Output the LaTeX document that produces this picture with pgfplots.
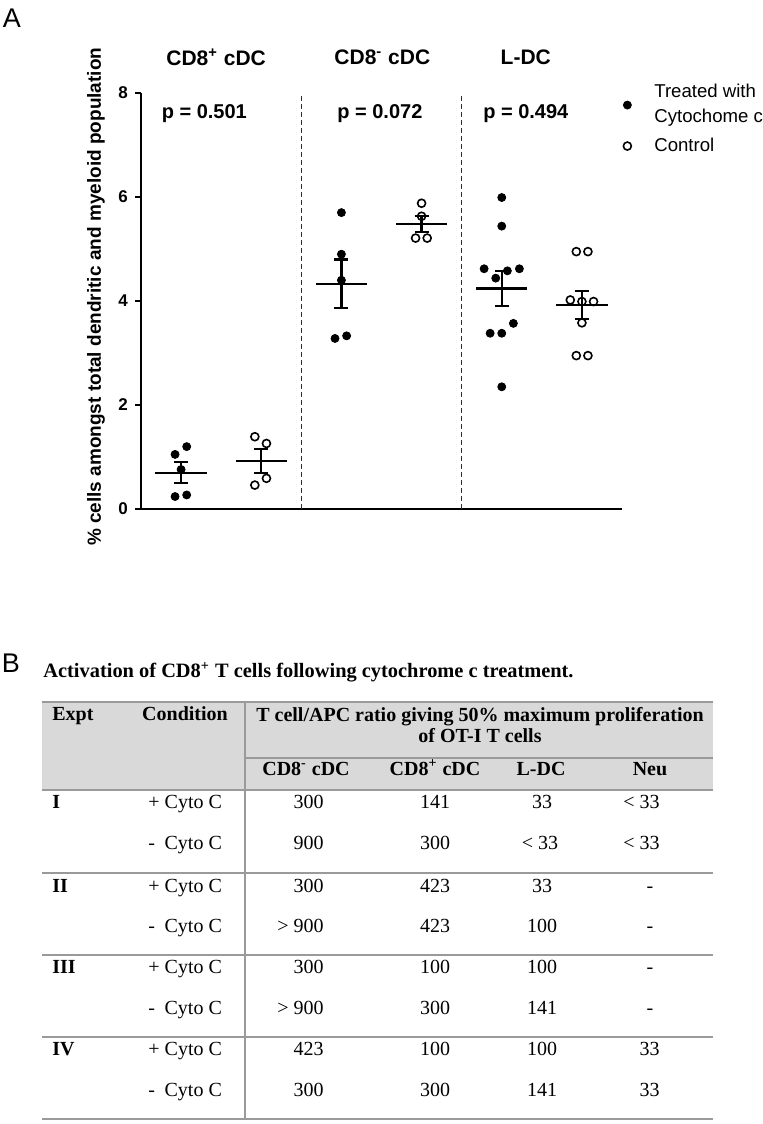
\documentclass[border=0pt]{standalone}
\usepackage{pgfplots}
\pgfplotsset{compat=1.18}
\usepackage{fontspec}
\setmainfont{Liberation Sans}
\newfontfamily\tnr{Liberation Serif}
\definecolor{hdrgray}{HTML}{D9D9D9}
\definecolor{rulegray}{HTML}{9A9A9A}
\definecolor{dashgray}{HTML}{333333}

\begin{document}
\begin{tikzpicture}
\useasboundingbox (0,0) rectangle (381pt,-562pt);

\begin{axis}[
  at={(70.5pt,-254.5pt)}, anchor=south west,
  scale only axis, width=240.5pt, height=208pt,
  xmin=0.5, xmax=6.5, ymin=0, ymax=8,
  axis lines=left, axis line style={-, line width=1.3pt, black},
  xtick=\empty, ytick={0,2,4,6,8},
  tick align=outside, major tick length=3pt,
  major tick style={line width=1.2pt, black},
  /pgf/number format/assume math mode=true,
  yticklabel style={font=\bfseries\fontsize{8.5}{10}\selectfont},
  ylabel={\% cells amongst total dendritic and myeloid population},
  ylabel style={font=\bfseries\fontsize{9.5}{11}\selectfont, at={(axis description cs:-0.0936,0.51)}, anchor=center},
  clip=false,
  legend cell align=left,
  legend image code/.code={\draw[#1] plot coordinates {(0pt,0pt)};},
  legend style={at={(axis description cs:1.002,1.029)}, anchor=north west, draw=none, fill=none, inner sep=0pt,
    font=\fontsize{9.3}{12.5}\selectfont, cells={anchor=west, align=left}, nodes={inner sep=1.5pt},
    row sep=3pt, /tikz/every odd column/.append style={column sep=10pt}},
]
% group separators
\addplot[forget plot, dashgray, line width=0.7pt, dash pattern=on 2.5pt off 1.5pt] coordinates {(2.5,0) (2.5,8)};
\addplot[forget plot, dashgray, line width=0.7pt, dash pattern=on 2.5pt off 1.5pt] coordinates {(4.5,0) (4.5,8)};

% treated with cytochrome c
\addplot[only marks, mark=*, mark size=2pt, black] coordinates {
 (0.925,1.05) (1.07,1.20) (1.0,0.76) (0.925,0.24) (1.07,0.27)
 (3.0,5.70) (3.0,4.90) (3.0,4.40) (2.92,3.28) (3.065,3.33)
 (5.0,5.99) (5.0,5.44) (4.78,4.62) (5.07,4.58) (5.22,4.62) (4.925,4.44) (5.145,3.57) (4.855,3.38) (5.0,3.38) (5.0,2.35)
};
\addlegendentry{Treated with\\Cytochome c}

% control
\addplot[only marks, mark=o, mark size=2pt, mark options={line width=0.8pt, fill=white}, black] coordinates {
 (1.92,1.39) (2.065,1.26) (2.065,0.59) (1.92,0.46)
 (4.0,5.88) (4.0,5.63) (3.925,5.21) (4.07,5.21)
 (5.93,4.95) (6.075,4.95) (5.855,4.02) (6.0,3.99) (6.145,3.99) (6.0,3.58) (5.93,2.95) (6.075,2.95)
};
\addlegendentry{Control}

% mean +- SEM
\addplot[forget plot, only marks, mark=-, mark size=12.8pt, mark options={line width=1.1pt}, black,
  error bars/.cd, y dir=both, y explicit,
  error bar style={line width=1.1pt, black},
  error mark=-,
  error mark options={rotate=90, line width=1.1pt, mark size=3.5pt, black}] coordinates {
 (1,0.70) +- (0,0.20)
 (2,0.92) +- (0,0.23)
 (3,4.33) +- (0,0.47)
 (4,5.48) +- (0,0.16)
 (5,4.24) +- (0,0.34)
 (6,3.92) +- (0,0.27)
};

% group titles and p values
\node[font=\bfseries\fontsize{10.5}{12}\selectfont] at (axis cs:1.437,8.68) {CD8\textsuperscript{+} cDC};
\node[font=\bfseries\fontsize{10.5}{12}\selectfont] at (axis cs:3.51,8.68) {CD8\textsuperscript{-} cDC};
\node[font=\bfseries\fontsize{10.5}{12}\selectfont] at (axis cs:5.30,8.68) {L-DC};
\node[font=\bfseries\fontsize{10}{12}\selectfont] at (axis cs:1.29,7.61) {p = 0.501};
\node[font=\bfseries\fontsize{10}{12}\selectfont] at (axis cs:3.48,7.61) {p = 0.072};
\node[font=\bfseries\fontsize{10}{12}\selectfont] at (axis cs:5.30,7.61) {p = 0.494};
\end{axis}

\begin{scope}[x=0.5pt, y=-0.5pt]
% panel labels
\node[font=\fontsize{13.5}{15}\selectfont] at (12,18) {A};
\node[font=\fontsize{13.5}{15}\selectfont] at (11,663) {B};

% table title
\node[anchor=west, inner sep=0pt, font=\tnr\bfseries\fontsize{10.2}{12}\selectfont] at (43,672)
  {Activation of CD8\textsuperscript{+} T cells following cytochrome c treatment.};

% header background and rules
\fill[hdrgray] (42,702) rectangle (713,790);
\draw[rulegray, line width=1.2pt] (42,702) -- (713,702);
\draw[rulegray, line width=1pt] (245,758) -- (713,758);
\draw[rulegray, line width=1pt] (42,790) -- (713,790);
\draw[rulegray, line width=0.6pt] (245,702) -- (245,1119);
\draw[rulegray, line width=1pt] (42,873) -- (713,873);
\draw[rulegray, line width=1pt] (42,955) -- (713,955);
\draw[rulegray, line width=1pt] (42,1037) -- (713,1037);
\draw[rulegray, line width=1.2pt] (42,1119) -- (713,1119);

\begin{scope}[every node/.style={font=\tnr\bfseries\fontsize{10}{12}\selectfont, inner sep=0pt, text height=7pt, text depth=2pt}]
\node[anchor=west] at (52,715) {Expt};
\node at (185,715) {Condition};
\node at (480,716) {T cell/APC ratio giving 50\% maximum proliferation};
\node at (480,737) {of OT-I T cells};
\node at (306,770) {CD8\textsuperscript{-} cDC};
\node at (435,770) {CD8\textsuperscript{+} cDC};
\node at (541,770) {L-DC};
\node at (650,770) {Neu};
\node[anchor=west] at (52,803) {I};
\node[anchor=west] at (52,887) {II};
\node[anchor=west] at (52,968) {III};
\node[anchor=west] at (52,1050) {IV};
\end{scope}

\begin{scope}[every node/.style={font=\tnr\fontsize{10}{12}\selectfont, inner sep=0pt, text height=7pt, text depth=2pt}]
% conditions
\node[anchor=west] at (148,803) {+ Cyto C};
\node[anchor=west] at (148,844) {-\hspace{0.23em} Cyto C};
\node[anchor=west] at (148,887) {+ Cyto C};
\node[anchor=west] at (148,927) {-\hspace{0.23em} Cyto C};
\node[anchor=west] at (148,968) {+ Cyto C};
\node[anchor=west] at (148,1009) {-\hspace{0.23em} Cyto C};
\node[anchor=west] at (148,1050) {+ Cyto C};
\node[anchor=west] at (148,1091) {-\hspace{0.23em} Cyto C};
% CD8- cDC
\node[anchor=east] at (324,803) {300};
\node[anchor=east] at (324,844) {900};
\node[anchor=east] at (324,887) {300};
\node[anchor=east] at (324,927) {> 900};
\node[anchor=east] at (324,968) {300};
\node[anchor=east] at (324,1009) {> 900};
\node[anchor=east] at (324,1050) {423};
\node[anchor=east] at (324,1091) {300};
% CD8+ cDC
\node at (435,803) {141};
\node at (435,844) {300};
\node at (435,887) {423};
\node at (435,927) {423};
\node at (435,968) {100};
\node at (435,1009) {300};
\node at (435,1050) {100};
\node at (435,1091) {300};
% L-DC
\node at (542,803) {33};
\node at (540,844) {< 33};
\node at (542,887) {33};
\node at (542,927) {100};
\node at (542,968) {100};
\node at (542,1009) {141};
\node at (542,1050) {100};
\node at (542,1091) {141};
% Neu
\node[anchor=east] at (660,803) {< 33};
\node[anchor=east] at (660,844) {< 33};
\node at (650,887) {-};
\node at (650,927) {-};
\node at (650,968) {-};
\node at (650,1009) {-};
\node[anchor=east] at (660,1050) {33};
\node[anchor=east] at (660,1091) {33};
\end{scope}
\end{scope}
\end{tikzpicture}
\end{document}
